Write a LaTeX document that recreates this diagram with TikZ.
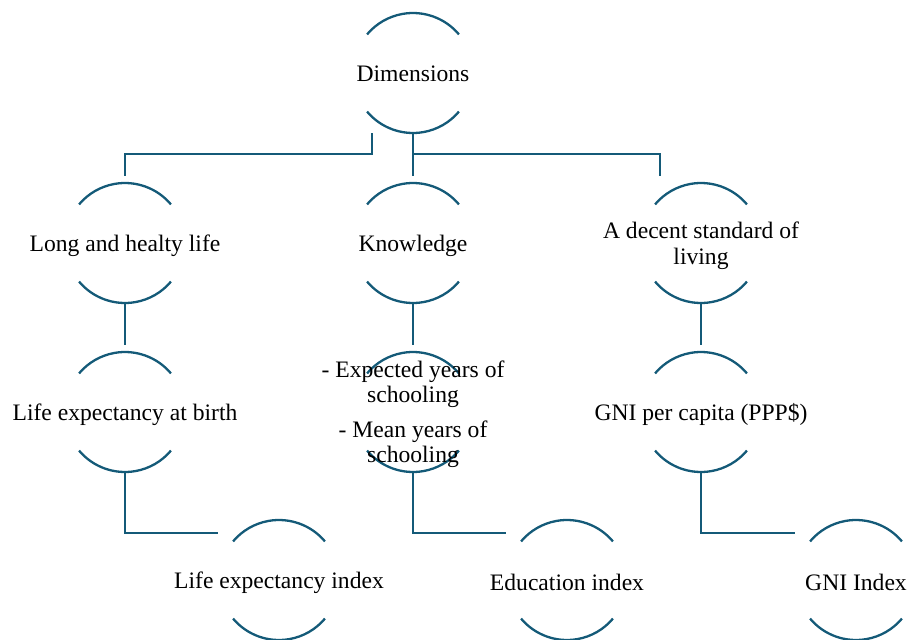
\documentclass[tikz,border=0pt]{standalone}
\usepackage{fontspec}
\setmainfont{Liberation Serif}
\usetikzlibrary{calc}
\definecolor{lineblue}{HTML}{145A78}
\begin{document}
\begin{tikzpicture}[x=1pt,y=1pt,
  ring/.style={circle,minimum size=120pt,inner sep=0pt},
  lbl/.style={align=center,font=\fontsize{23.6}{26}\selectfont,text=black,inner sep=0pt,yshift=-2.5pt},
  arcline/.style={draw=lineblue,line width=2.3pt},
  conn/.style={draw=lineblue,line width=2.3pt}]
\useasboundingbox (0,0) rectangle (908,-640);
\newcommand{\ringarcs}[1]{%
  \draw[arcline] ($(#1.center)+(40:60)$) arc[start angle=40,end angle=140,radius=60];
  \draw[arcline] ($(#1.center)+(220:60)$) arc[start angle=220,end angle=320,radius=60];}
% rings
\node[ring] (dim) at (413,-73) {};
\node[ring] (life) at (125,-243) {};
\node[ring] (know) at (413,-243) {};
\node[ring] (liv) at (701,-243) {};
\node[ring] (leb) at (125,-412) {};
\node[ring] (sch) at (413,-412) {};
\node[ring] (gni) at (701,-412) {};
\node[ring] (lei) at (279,-580) {};
\node[ring] (edi) at (567,-580) {};
\node[ring] (gnii) at (856,-580) {};
\foreach \n in {dim,life,know,liv,leb,sch,gni,lei,edi,gnii}{\ringarcs{\n}}
% labels
\node[lbl,yshift=1.5pt] (tdim) at (413,-73) {Dimensions};
\node[lbl] (tlife) at (125,-243) {Long and healty life};
\node[lbl] (tknow) at (413,-243) {Knowledge};
\node[lbl] (tliv) at (701,-243) {A decent standard of\\living};
\node[lbl] (tleb) at (125,-412) {Life expectancy at birth};
\node[lbl,font=\fontsize{23.6}{25}\selectfont] (tsch) at (413,-412) {- Expected years of\\schooling\\[10pt]- Mean years of\\schooling};
\node[lbl] (tgni) at (701,-412) {GNI per capita (PPP\$)};
\node[lbl] (tlei) at (279,-580) {Life expectancy index};
\node[lbl] (tedi) at (567,-580) {Education index};
\node[lbl] (tgnii) at (856,-580) {GNI Index};
% connectors
\coordinate (dl) at ($(dim.south)+(-41,0)$);
\coordinate (b1) at (413,-154);
\draw[conn] (dl) |- (b1 -| life) -- ($(life.north)+(0,7)$);
\draw[conn] (dim.south) -- ($(know.north)+(0,7)$);
\draw[conn] (b1) -| ($(liv.north)+(-41,7)$);
\draw[conn] (life.south) -- ($(leb.north)+(0,7)$);
\draw[conn] (know.south) -- ($(sch.north)+(0,7)$);
\draw[conn] (liv.south) -- ($(gni.north)+(0,7)$);
\draw[conn] (leb.south) |- ($(lei.north)+(-61,-13)$);
\draw[conn] (sch.south) |- ($(edi.north)+(-61,-13)$);
\draw[conn] (gni.south) |- ($(gnii.north)+(-61,-13)$);
\end{tikzpicture}
\end{document}
